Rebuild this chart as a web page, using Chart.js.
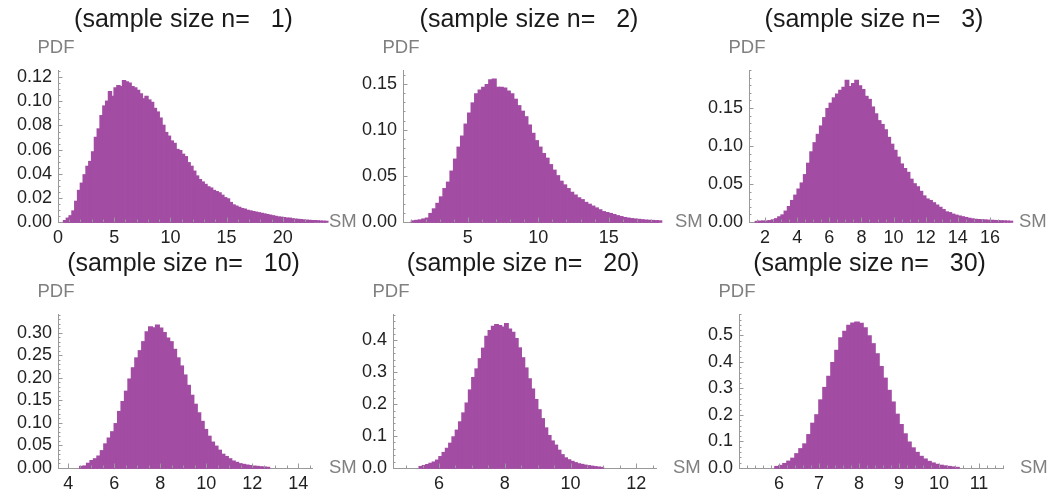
<!DOCTYPE html>
<html>
<head>
<meta charset="utf-8">
<script src="https://cdn.jsdelivr.net/npm/chart.js@4.4.1/dist/chart.umd.min.js"></script>
<style>
html,body{margin:0;padding:0;background:#fff;}
body{width:1052px;height:496px;position:relative;overflow:hidden;}
canvas{position:absolute;}
</style>
</head>
<body>
<canvas id="p1"></canvas>
<canvas id="p2"></canvas>
<canvas id="p3"></canvas>
<canvas id="p4"></canvas>
<canvas id="p5"></canvas>
<canvas id="p6"></canvas>
<script>
// ---------------- DATA ----------------
const sampleSizes = [1, 2, 3, 10, 20, 30];

// n = 1
const n1BinStart = 0.5, n1BinWidth = 0.25;
const n1Density = [0.001,0.003,0.005,0.009,0.017,0.026,0.032,0.039,0.046,0.05,
 0.058,0.07,0.077,0.088,0.096,0.1,0.108,0.104,0.111,0.113,
 0.112,0.117,0.116,0.115,0.112,0.111,0.109,0.106,0.102,0.104,
 0.101,0.099,0.094,0.091,0.086,0.08,0.074,0.071,0.067,0.065,
 0.06,0.059,0.056,0.054,0.049,0.046,0.042,0.038,0.035,0.033,
 0.031,0.029,0.028,0.026,0.025,0.024,0.022,0.02,0.019,0.016,
 0.014,0.013,0.012,0.011,0.0105,0.0095,0.009,0.0085,0.008,0.0075,
 0.007,0.0065,0.006,0.0055,0.005,0.0045,0.004,0.0038,0.0035,0.003,
 0.003,0.0025,0.0022,0.002,0.0018,0.0015,0.0013,0.0012,0.001,0.001,
 0.0008,0.0006,0.0005,0.0004];
const n1XRange = [0, 22.6], n1YMax = 0.126;
const n1XTicks = [0, 5, 10, 15, 20];
const n1YTicks = ['0.00','0.02','0.04','0.06','0.08','0.10','0.12'];

// n = 2
const n2BinStart = 1.0, n2BinWidth = 0.25;
const n2Density = [0.001,0.0015,0.002,0.003,0.004,0.009,0.014,0.02,0.027,0.036,
 0.043,0.055,0.068,0.081,0.093,0.106,0.118,0.129,0.139,0.143,
 0.146,0.149,0.154,0.155,0.146,0.146,0.145,0.142,0.139,0.133,
 0.126,0.12,0.114,0.105,0.096,0.088,0.081,0.074,0.069,0.062,
 0.056,0.05,0.044,0.04,0.036,0.032,0.029,0.026,0.024,0.021,
 0.019,0.017,0.015,0.013,0.011,0.01,0.009,0.0078,0.0066,0.0056,
 0.0046,0.004,0.0034,0.003,0.0026,0.0022,0.0018,0.0016,0.0014,0.0012,
 0.001];
const n2XRange = [0.4, 18.5], n2YMax = 0.165;
const n2XTicks = [5, 10, 15];
const n2YTicks = ['0.00','0.05','0.10','0.15'];

// n = 3
const n3BinStart = 1.4, n3BinWidth = 0.2;
const n3Density = [0.0005,0.0008,0.001,0.001,0.0015,0.0025,0.004,0.0065,0.009,0.014,
 0.02,0.028,0.035,0.043,0.051,0.062,0.077,0.092,0.104,0.115,
 0.126,0.137,0.149,0.156,0.163,0.168,0.173,0.177,0.186,0.178,
 0.182,0.186,0.179,0.174,0.165,0.161,0.151,0.142,0.133,0.128,
 0.121,0.111,0.102,0.094,0.085,0.076,0.07,0.065,0.056,0.05,
 0.046,0.04,0.034,0.03,0.028,0.025,0.022,0.019,0.016,0.013,
 0.012,0.01,0.0087,0.0076,0.0066,0.0056,0.0046,0.0038,0.0032,0.0029,
 0.0026,0.0024,0.002,0.0019,0.0017,0.0015,0.0013,0.0011,0.0009,0.0007];
const n3XRange = [1.0, 16.75], n3YMax = 0.2;
const n3XTicks = [2, 4, 6, 8, 10, 12, 14, 16];
const n3YTicks = ['0.00','0.05','0.10','0.15'];

// n = 10
const n10BinStart = 4.5, n10BinWidth = 0.15;
const n10Density = [0.003,0.004,0.01,0.016,0.02,0.026,0.038,0.053,0.066,0.08,
 0.098,0.125,0.147,0.17,0.197,0.222,0.244,0.26,0.28,0.302,
 0.313,0.311,0.317,0.31,0.3,0.288,0.28,0.263,0.244,0.226,
 0.206,0.183,0.161,0.141,0.122,0.103,0.085,0.07,0.057,0.048,
 0.039,0.03,0.025,0.02,0.015,0.012,0.009,0.0075,0.006,0.0048,
 0.0037,0.003,0.0022,0.0015,0.001];
const n10XRange = [3.55, 14.6], n10YMax = 0.342;
const n10XTicks = [4, 6, 8, 10, 12, 14];
const n10YTicks = ['0.00','0.05','0.10','0.15','0.20','0.25','0.30'];

// n = 20
const n20BinStart = 5.4, n20BinWidth = 0.1;
const n20Density = [0.004,0.007,0.01,0.014,0.018,0.024,0.035,0.048,0.061,0.077,
 0.097,0.118,0.144,0.172,0.203,0.244,0.283,0.31,0.342,0.375,
 0.412,0.43,0.444,0.449,0.446,0.441,0.452,0.435,0.425,0.405,
 0.376,0.345,0.313,0.279,0.247,0.214,0.182,0.154,0.125,0.101,
 0.084,0.071,0.055,0.041,0.031,0.025,0.02,0.016,0.0125,0.0105,
 0.0082,0.0065,0.005,0.0035,0.0022,0.0012];
const n20XRange = [4.6, 12.6], n20YMax = 0.483;
const n20XTicks = [6, 8, 10, 12];
const n20YTicks = ['0.0','0.1','0.2','0.3','0.4'];

// n = 30
const n30BinStart = 5.9, n30BinWidth = 0.1;
const n30Density = [0.005,0.009,0.016,0.025,0.036,0.053,0.072,0.09,0.125,0.168,
 0.2,0.256,0.303,0.345,0.397,0.443,0.49,0.515,0.537,0.546,
 0.55,0.545,0.528,0.498,0.468,0.43,0.382,0.338,0.292,0.248,
 0.202,0.163,0.128,0.097,0.075,0.058,0.043,0.033,0.024,0.018,
 0.013,0.0095,0.007,0.005,0.003,0.0015];
const n30XRange = [5.0, 11.6], n30YMax = 0.581;
const n30XTicks = [6, 7, 8, 9, 10, 11];
const n30YTicks = ['0.0','0.1','0.2','0.3','0.4','0.5'];

// ---------------- STYLE / LAYOUT ----------------
const FONT = "'Liberation Sans', Arial, sans-serif";
const AXIS_COLOR = '#999999';
const LABEL_COLOR = '#222222';
const BAR_COLOR = '#a24ca3';
const PAD_TOP = 70, PAD_RIGHT = 50, Y_AXIS_W = 58, X_AXIS_H = 28;

const panelDecor = {
  id: 'panelDecor',
  afterDraw(chart, args, opts) {
    const ctx = chart.ctx, ca = chart.chartArea;
    const xs = chart.scales.x, ys = chart.scales.y;
    ctx.save();
    ctx.strokeStyle = AXIS_COLOR;
    ctx.lineWidth = 1;
    ctx.beginPath();
    const ticks = (scale, step, majors, horiz) => {
      const i0 = Math.ceil(scale.min / step - 1e-6);
      const i1 = Math.floor(scale.max / step + 1e-6);
      for (let i = i0; i <= i1; i++) {
        const v = i * step;
        const major = majors.some(m => Math.abs(m - v) < step * 1e-3);
        const len = major ? 4.5 : 2.5;
        const p = Math.round(scale.getPixelForValue(v)) + 0.5;
        if (horiz) { ctx.moveTo(p, ca.bottom); ctx.lineTo(p, ca.bottom - len); }
        else { ctx.moveTo(ca.left, p); ctx.lineTo(ca.left + len, p); }
      }
    };
    ticks(xs, opts.xMinor, opts.xMajor, true);
    ticks(ys, opts.yMinor, opts.yMajor, false);
    ctx.stroke();

    ctx.textBaseline = 'middle';
    ctx.textAlign = 'center';
    ctx.fillStyle = '#1a1a1a';
    ctx.font = '25px ' + FONT;
    ctx.fillText(opts.title, (ca.left + ca.right) / 2 - 1.5, ca.top - 50);
    ctx.fillStyle = '#808080';
    ctx.font = '18.5px ' + FONT;
    ctx.fillText('PDF', ca.left - 2, ca.top - 22);
    ctx.textAlign = 'left';
    ctx.fillText('SM', ca.right + 17, ca.bottom);
    ctx.restore();
  }
};

function makePanel(id, box, n, binStart, binWidth, density, xRange, yMax, xTicks, yTicks, xMinor, yMinor) {
  const el = document.getElementById(id);
  el.width = box.w; el.height = box.h;
  el.style.left = box.left + 'px'; el.style.top = box.top + 'px';
  el.style.width = box.w + 'px'; el.style.height = box.h + 'px';
  const yVals = yTicks.map(parseFloat);
  new Chart(el, {
    type: 'bar',
    data: {
      datasets: [{
        data: density.map((v, i) => ({ x: binStart + binWidth * (i + 0.5), y: v })),
        backgroundColor: BAR_COLOR,
        borderWidth: 0,
        barPercentage: 1,
        categoryPercentage: 1,
        inflateAmount: 0.8,
        clip: false
      }]
    },
    options: {
      responsive: false,
      animation: false,
      devicePixelRatio: 1,
      events: [],
      layout: { padding: { left: 0, top: PAD_TOP, right: PAD_RIGHT, bottom: 0 } },
      plugins: {
        legend: { display: false },
        tooltip: { enabled: false },
        panelDecor: {
          title: '(sample size n=   ' + n + ')',
          xMinor: xMinor, yMinor: yMinor,
          xMajor: xTicks, yMajor: yVals
        }
      },
      scales: {
        x: {
          type: 'linear', min: xRange[0], max: xRange[1], offset: false, z: 1,
          grid: { display: false, drawTicks: false, offset: false },
          border: { display: true, color: AXIS_COLOR, width: 1 },
          afterBuildTicks: s => { s.ticks = xTicks.map(v => ({ value: v })); },
          afterFit: s => { s.height = X_AXIS_H; },
          ticks: { autoSkip: false, maxRotation: 0, minRotation: 0, padding: 5,
                   color: LABEL_COLOR, font: { family: FONT, size: 18 },
                   callback: v => String(v) }
        },
        y: {
          type: 'linear', min: 0, max: yMax, z: 1,
          grid: { display: false, drawTicks: false },
          border: { display: true, color: AXIS_COLOR, width: 1 },
          afterBuildTicks: s => { s.ticks = yVals.map(v => ({ value: v })); },
          afterFit: s => { s.width = Y_AXIS_W; },
          ticks: { autoSkip: false, padding: 6, color: LABEL_COLOR,
                   font: { family: FONT, size: 18 },
                   callback: (v, i) => yTicks[i] }
        }
      }
    },
    plugins: [panelDecor]
  });
}

makePanel('p1', {left: 0,   top: 0,   w: 362, h: 250}, sampleSizes[0], n1BinStart, n1BinWidth, n1Density, n1XRange, n1YMax, n1XTicks, n1YTicks, 1, 0.005);
makePanel('p2', {left: 345, top: 0,   w: 363, h: 250}, sampleSizes[1], n2BinStart, n2BinWidth, n2Density, n2XRange, n2YMax, n2XTicks, n2YTicks, 1, 0.01);
makePanel('p3', {left: 691, top: 0,   w: 361, h: 250}, sampleSizes[2], n3BinStart, n3BinWidth, n3Density, n3XRange, n3YMax, n3XTicks, n3YTicks, 0.5, 0.01);
makePanel('p4', {left: 0,   top: 244, w: 362, h: 252}, sampleSizes[3], n10BinStart, n10BinWidth, n10Density, n10XRange, n10YMax, n10XTicks, n10YTicks, 0.5, 0.01);
makePanel('p5', {left: 335, top: 244, w: 371, h: 252}, sampleSizes[4], n20BinStart, n20BinWidth, n20Density, n20XRange, n20YMax, n20XTicks, n20YTicks, 0.5, 0.02);
makePanel('p6', {left: 681, top: 244, w: 372, h: 252}, sampleSizes[5], n30BinStart, n30BinWidth, n30Density, n30XRange, n30YMax, n30XTicks, n30YTicks, 0.2, 0.02);
</script>
</body>
</html>
